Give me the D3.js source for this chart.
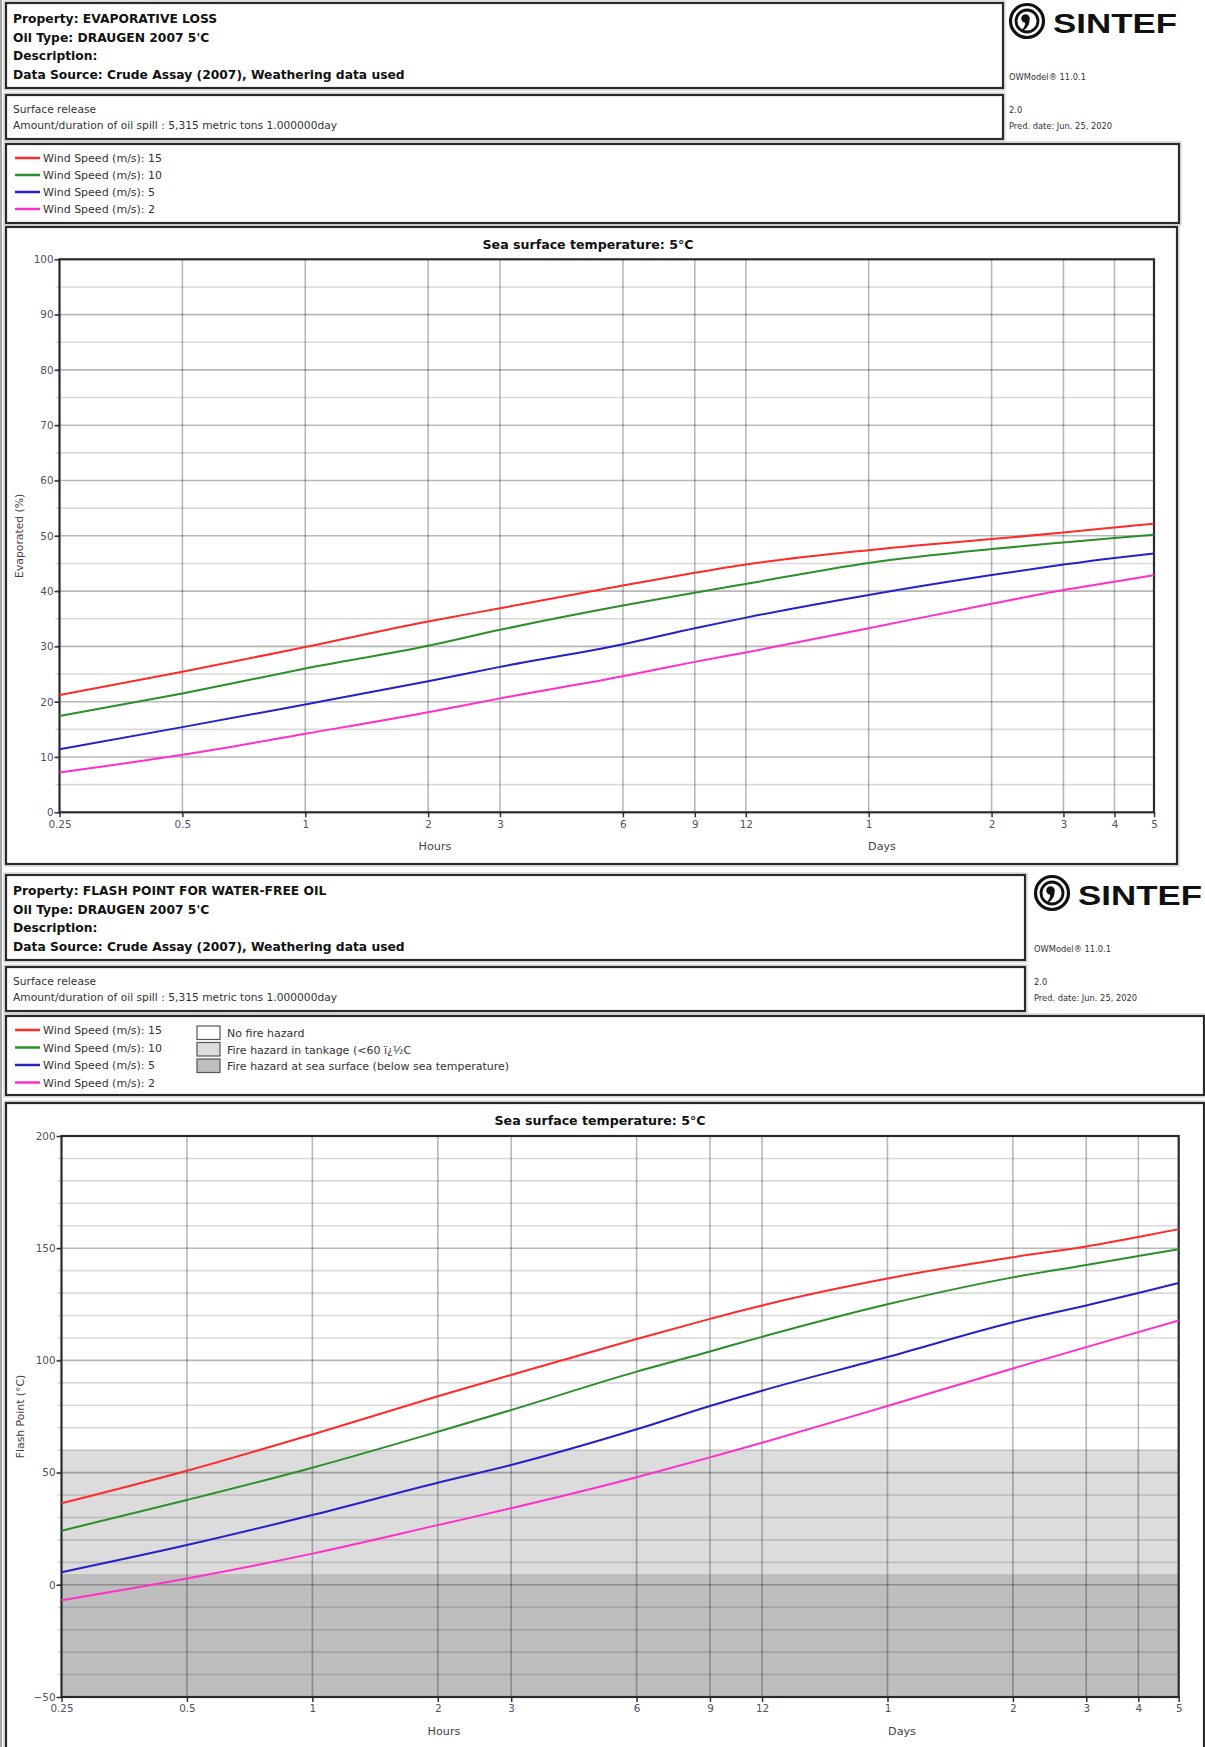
<!DOCTYPE html>
<html><head><meta charset="utf-8">
<script src="https://cdn.jsdelivr.net/npm/d3@7/dist/d3.min.js"></script>
<style>
body{margin:0;background:#fff;}
svg{display:block;font-family:"DejaVu Sans",Verdana,sans-serif;}
</style></head>
<body><svg id="c" width="1205" height="1747"></svg>
<script>
// ---------------- DATA ----------------
const hours = [0.25, 0.5, 1, 2, 3, 6, 9, 12, 24, 48, 72, 96, 120];
const tickLabels = ["0.25", "0.5", "1", "2", "3", "6", "9", "12", "1", "2", "3", "4", "5"];
const windSpeeds = [15, 10, 5, 2];
const seriesColors = ["#ff2a2a", "#2b8f2b", "#2222c8", "#ff30c8"];

// Evaporated (%)
const evapWind15 = [21.2, 25.4, 29.9, 34.5, 36.9, 41.0, 43.3, 44.8, 47.4, 49.4, 50.6, 51.5, 52.2];
const evapWind10 = [17.4, 21.5, 26.0, 30.1, 33.0, 37.4, 39.7, 41.3, 45.1, 47.6, 48.8, 49.6, 50.2];
const evapWind5  = [11.4, 15.4, 19.5, 23.7, 26.3, 30.4, 33.3, 35.2, 39.3, 42.9, 44.8, 46.0, 46.8];
const evapWind2  = [7.2, 10.4, 14.2, 18.1, 20.6, 24.6, 27.2, 28.9, 33.3, 37.7, 40.2, 41.7, 42.9];

// Flash point (°C)
const flashWind15 = [36.3, 50.8, 67.0, 84.0, 93.5, 109.5, 118.5, 124.5, 136.5, 146.0, 150.8, 155.0, 158.5];
const flashWind10 = [24.1, 37.8, 52.2, 68.2, 77.9, 95.0, 104.0, 110.5, 125.0, 137.0, 142.5, 146.5, 149.5];
const flashWind5  = [5.6, 17.7, 31.1, 45.5, 53.4, 69.3, 79.7, 86.5, 101.5, 117.0, 124.5, 130.0, 134.5];
const flashWind2  = [-6.9, 2.8, 13.9, 26.6, 34.1, 47.9, 56.8, 63.3, 79.7, 96.4, 105.9, 112.6, 117.8];

const evapTicks = [0, 10, 20, 30, 40, 50, 60, 70, 80, 90, 100];
const flashTicks = [-50, 0, 50, 100, 150, 200];
const seaTemperature = 5;
const tankageLimit = 60;

const hazardLabels = ["No fire hazard", "Fire hazard in tankage (<60 ï¿½C", "Fire hazard at sea surface (below sea temperature)"];
const hazardFills = ["#ffffff", "#dcdcdc", "#bebebe"];

// ---------------- DRAW ----------------
const svg = d3.select("#c");
const TXT = "#333";
const TICKC = "#4d5366";
const UIFONT = '"DejaVu Sans",Verdana,sans-serif';

svg.append("line").attr("x1",1).attr("x2",1).attr("y1",0).attr("y2",1747).attr("stroke","#888").attr("stroke-width",1.5);

function box(x, y, w, h) {
  svg.append("rect").attr("x", x - 2).attr("y", y - 2).attr("width", w + 4).attr("height", h + 4)
    .attr("fill", "none").attr("stroke", "#c8c8c8").attr("stroke-width", 1);
  svg.append("rect").attr("x", x).attr("y", y).attr("width", w).attr("height", h)
    .attr("fill", "none").attr("stroke", "#2a2a2a").attr("stroke-width", 2.2);
}

function logo(x, y) {
  const g = svg.append("g").attr("transform", `translate(${x},${y})`);
  g.append("circle").attr("cx", 19).attr("cy", 16).attr("r", 16.5).attr("fill", "none").attr("stroke", "#111").attr("stroke-width", 3.2);
  g.append("circle").attr("cx", 19).attr("cy", 16).attr("r", 11).attr("fill", "none").attr("stroke", "#111").attr("stroke-width", 2.8);
  g.append("circle").attr("cx", 17.5).attr("cy", 13.5).attr("r", 4.2).attr("fill", "#111");
  g.append("path").attr("d", "M20.5,14 Q22,20 15,25 Q19,20 17.5,16 Z").attr("fill", "#111").attr("stroke", "#111").attr("stroke-width", 1.5);
  g.append("text").attr("x", 45).attr("y", 28).attr("font-size", 28).attr("font-weight", 900)
    .attr("font-family", '"Liberation Sans",Arial,sans-serif')
    .attr("textLength", 124).attr("lengthAdjust", "spacingAndGlyphs").attr("fill", "#111").text("SINTEF");
}

function header(o) {
  box(6, o.y, o.hw, 85);
  const lines = [o.property, "Oil Type: DRAUGEN 2007 5'C", "Description:", "Data Source: Crude Assay (2007), Weathering data used"];
  lines.forEach((t, i) => {
    svg.append("text").attr("x", 13).attr("y", o.y + 20 + i * 18.5).attr("font-size", 12.3).attr("font-weight", "bold")
      .attr("fill", "#111").text(t);
  });
  logo(o.lx, o.y + 2);
  const small = (t, yy) => svg.append("text").attr("x", o.lx + 1).attr("y", yy).attr("font-size", 8.3)
      .attr("fill", TXT).text(t);
  small("OWModel® 11.0.1", o.y + 77);
  box(6, o.y + 92, o.hw, 44);
  svg.append("text").attr("x", 13).attr("y", o.y + 109.5).attr("font-size", 10.7).attr("fill", TXT).text("Surface release");
  svg.append("text").attr("x", 13).attr("y", o.y + 125.5).attr("font-size", 10.7).attr("fill", TXT).text("Amount/duration of oil spill : 5,315 metric tons 1.000000day");
  small("2.0", o.y + 109.5);
  small("Pred. date: Jun. 25, 2020", o.y + 125.5);
  box(6, o.y + 141, o.lw, 79);
  windSpeeds.forEach((ws, i) => {
    const cy = o.y + 155 + i * o.ls;
    svg.append("line").attr("x1", 15).attr("x2", 40).attr("y1", cy).attr("y2", cy).attr("stroke", seriesColors[i]).attr("stroke-width", 2.5);
    svg.append("text").attr("x", 43).attr("y", cy + 4).attr("font-size", 11).attr("fill", TXT).text("Wind Speed (m/s): " + ws);
  });
  if (o.hazard) {
    hazardLabels.forEach((t, i) => {
      const top = o.y + 151 + i * 16.5;
      svg.append("rect").attr("x", 197).attr("y", top).attr("width", 23).attr("height", 13.5)
        .attr("fill", hazardFills[i]).attr("stroke", "#555").attr("stroke-width", 1.2);
      svg.append("text").attr("x", 227).attr("y", top + 11).attr("font-size", 11).attr("fill", TXT).text(t);
    });
  }
}

function chart(o) {
  box(6, o.by, o.bw, o.bh);
  const x = d3.scaleLog().domain([0.25, 120]).range([o.x0, o.x1]);
  const y = d3.scaleLinear().domain(o.yDomain).range([o.y1, o.y0]);
  const g = svg.append("g");
  if (o.bands) {
    o.bands.forEach(b => {
      g.append("rect").attr("x", o.x0).attr("width", o.x1 - o.x0)
        .attr("y", y(b[1])).attr("height", y(b[0]) - y(b[1])).attr("fill", b[2]);
    });
  }
  const minor = d3.range(o.yDomain[0], o.yDomain[1] + 0.001, o.minorStep);
  minor.forEach(v => {
    if (v === o.yDomain[0] || v === o.yDomain[1]) return;
    const major = o.ticks.includes(v);
    g.append("line").attr("x1", o.x0 - 4).attr("x2", o.x1).attr("y1", y(v)).attr("y2", y(v))
      .attr("stroke", major ? "rgba(0,0,0,0.28)" : "rgba(0,0,0,0.15)").attr("stroke-width", 1.6);
  });
  hours.slice(1, -1).forEach(h => {
    g.append("line").attr("x1", x(h)).attr("x2", x(h)).attr("y1", o.y0).attr("y2", o.y1)
      .attr("stroke", "rgba(0,0,0,0.28)").attr("stroke-width", 1.6);
  });
  const ax = g.append("g").attr("transform", `translate(0,${o.y1})`)
    .call(d3.axisBottom(x).tickValues(hours).tickFormat((d, i) => tickLabels[i]).tickSize(5).tickPadding(3));
  const ay = g.append("g").attr("transform", `translate(${o.x0},0)`)
    .call(d3.axisLeft(y).tickValues(o.ticks).tickSize(5).tickPadding(1));
  [ax, ay].forEach(a => {
    a.select(".domain").remove();
    a.selectAll("line").attr("stroke", "#333").attr("stroke-width", 1.5);
    a.selectAll("text").attr("font-size", 10.4).attr("fill", TICKC).attr("font-family", UIFONT);
  });
  g.append("rect").attr("x", o.x0).attr("y", o.y0).attr("width", o.x1 - o.x0).attr("height", o.y1 - o.y0)
    .attr("fill", "none").attr("stroke", "#2a2a2a").attr("stroke-width", 2.2);
  const line = d3.line().x((d, i) => x(hours[i])).y(d => y(d)).curve(d3.curveMonotoneX);
  o.series.forEach((s, i) => {
    g.append("path").attr("d", line(s)).attr("fill", "none").attr("stroke", seriesColors[i]).attr("stroke-width", 2);
  });
  svg.append("text").attr("x", o.tx).attr("y", o.by + 21.5).attr("text-anchor", "middle")
    .attr("font-size", 12.6).attr("font-weight", "bold").attr("fill", "#111").text("Sea surface temperature: 5°C");
  svg.append("text").attr("transform", `translate(${o.ylx},${(o.y0 + o.y1) / 2}) rotate(-90)`)
    .attr("text-anchor", "middle").attr("font-size", 10.8).attr("fill", "#444").text(o.ylabel);
  svg.append("text").attr("x", o.hx).attr("y", o.y1 + 38).attr("text-anchor", "middle").attr("font-size", 11.2).attr("fill", "#444").text("Hours");
  svg.append("text").attr("x", o.dx).attr("y", o.y1 + 38).attr("text-anchor", "middle").attr("font-size", 11.2).attr("fill", "#444").text("Days");
}

header({ y: 3, hw: 997, lw: 1173, lx: 1008, ls: 17, property: "Property: EVAPORATIVE LOSS", hazard: false });
chart({
  by: 227, bw: 1171, bh: 637,
  x0: 59.5, x1: 1154, y0: 259.3, y1: 812.3,
  yDomain: [0, 100], ticks: evapTicks, minorStep: 5,
  series: [evapWind15, evapWind10, evapWind5, evapWind2],
  tx: 588, ylx: 23, hx: 435, dx: 882, ylabel: "Evaporated (%)"
});

header({ y: 875, hw: 1019, lw: 1198, lx: 1033, ls: 17.5, property: "Property: FLASH POINT FOR WATER-FREE OIL", hazard: true });
chart({
  by: 1103, bw: 1198, bh: 660,
  x0: 61.5, x1: 1178.7, y0: 1136, y1: 1697,
  yDomain: [-50, 200], ticks: flashTicks, minorStep: 10,
  bands: [[-50, seaTemperature, hazardFills[2]], [seaTemperature, tankageLimit, hazardFills[1]]],
  series: [flashWind15, flashWind10, flashWind5, flashWind2],
  tx: 600, ylx: 24, hx: 444, dx: 902, ylabel: "Flash Point (°C)"
});
</script></body></html>
